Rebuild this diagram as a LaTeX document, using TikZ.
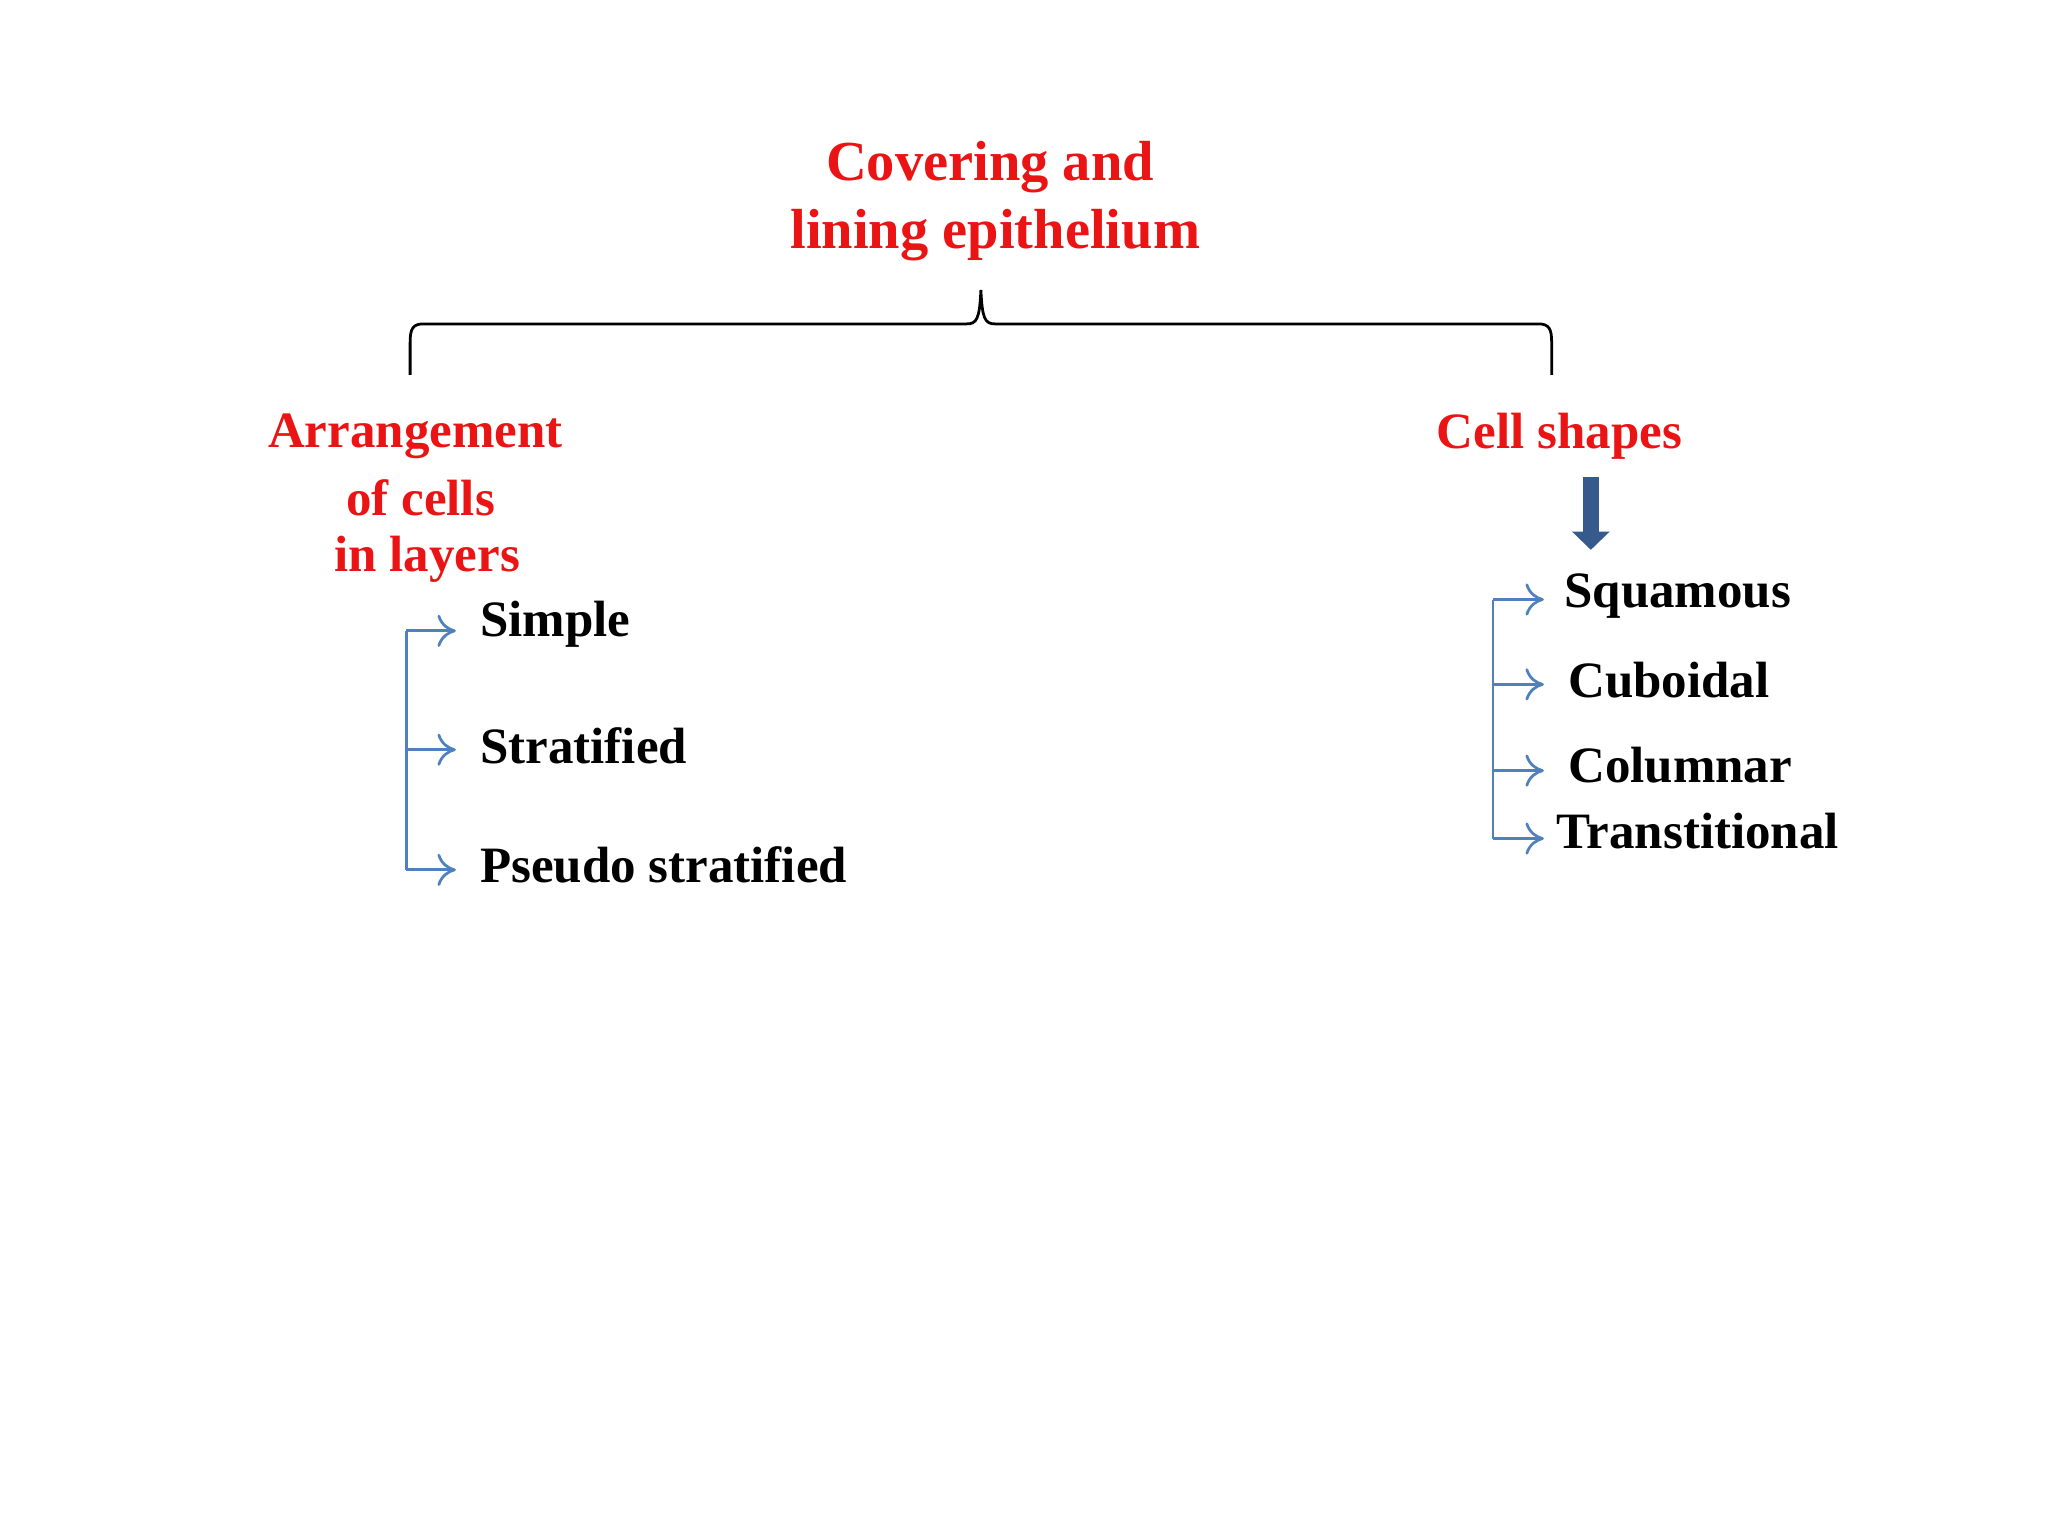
\documentclass[tikz,border=0pt]{standalone}
\usepackage{fontspec}
\setmainfont{Liberation Serif}
\usetikzlibrary{arrows.meta}
\definecolor{myred}{RGB}{235,20,20}
\definecolor{myblue}{RGB}{79,129,189}
\definecolor{darkblue}{RGB}{55,90,140}
\begin{document}
\begin{tikzpicture}[x=0.01cm,y=-0.01cm,
  redtxt/.style={text=myred,font=\fontsize{12.3pt}{15pt}\selectfont\bfseries,align=center,inner sep=0pt},
  redsm/.style={text=myred,font=\fontsize{11.1pt}{13pt}\selectfont\bfseries,inner sep=0pt},
  item/.style={font=\fontsize{11.1pt}{13pt}\selectfont\bfseries,anchor=west,inner sep=0pt},
  br/.style={draw=myblue,line width=0.6pt},
  arr/.style={br,-{To[length=4pt,width=7pt]}}]
\useasboundingbox (0,0) rectangle (1568,1176);
\node[redtxt] (t1) at (758,128) {Covering and};
\node[redtxt] (t2) at (762,180) {lining epithelium};
\draw[line width=0.6pt] (314,287) -- (314,262) .. controls (314,252) and (316,248) .. (324,248) -- (740,248) .. controls (748,248) and (750,244) .. (751,222)
  .. controls (752,244) and (754,248) .. (762,248) -- (1178,248) .. controls (1186,248) and (1188,252) .. (1188,262) -- (1188,287);
\node[redsm] (a1) at (318,334) {Arrangement};
\node[redsm] (a2) at (322,381) {of cells};
\node[redsm] (a3) at (327,428) {in layers};
\node[redsm] (c) at (1194,334) {Cell shapes};
\coordinate (ds) at (1218,365);
\coordinate (de) at (1218,421);
\draw[darkblue,line width=3.5pt,-{Triangle[length=4pt,width=8pt]}] (ds) -- (de);
\node[item] (s1) at (367,478) {Simple};
\node[item] (s2) at (367,571) {Stratified};
\node[item] (s3) at (367,662) {Pseudo stratified};
\coordinate (l1) at (311,483); \coordinate (l2) at (311,574); \coordinate (l3) at (311,666);
\draw[br] (l1) -- (l3);
\foreach \c in {l1,l2,l3} \draw[arr] (\c) -- ++(38,0);
\node[item] (r1) at (1197,456) {Squamous};
\node[item] (r2) at (1200,521) {Cuboidal};
\node[item] (r3) at (1200,586) {Columnar};
\node[item] (r4) at (1191,636) {Transtitional};
\coordinate (k1) at (1143,459); \coordinate (k2) at (1143,524); \coordinate (k3) at (1143,590); \coordinate (k4) at (1143,642);
\draw[br] (k1) -- (k4);
\foreach \c in {k1,k2,k3,k4} \draw[arr] (\c) -- ++(39,0);
\end{tikzpicture}
\end{document}
